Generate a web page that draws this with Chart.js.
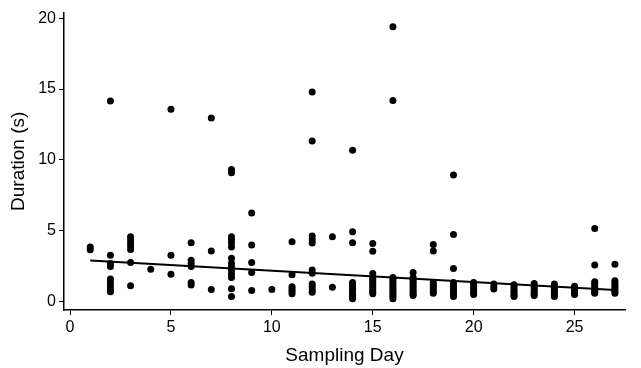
<!DOCTYPE html>
<html>
<head>
<meta charset="utf-8">
<script src="https://cdn.jsdelivr.net/npm/chart.js@4/dist/chart.umd.min.js"></script>
<style>
  html, body { margin: 0; padding: 0; background: #fff; }
  #wrap { width: 641px; height: 368px; }
</style>
</head>
<body>
<div id="wrap"><canvas id="chart"></canvas></div>
<script>
// sampling days and the durations (s) recorded on each
const days = [1, 2, 3, 4, 5, 6, 7, 8, 9, 10, 11, 12, 13, 14, 15, 16, 17, 18, 19, 20, 21, 22, 23, 24, 25, 26, 27];
const durations = [
    [3.85, 3.65],
    [14.15, 3.26, 2.68, 2.47, 1.59, 1.35, 1.07, 0.84, 0.68],
    [4.57, 4.36, 4.13, 3.92, 3.68, 2.75, 1.12],
    [2.28],
    [13.57, 3.26, 1.93],
    [4.15, 2.92, 2.68, 2.47, 1.35, 1.17],
    [12.96, 3.57, 0.84],
    [9.32, 9.1, 4.57, 4.36, 4.13, 3.85, 3.05, 2.7, 2.45, 2.2, 1.95, 1.7, 0.9, 0.35],
    [6.25, 3.99, 2.75, 2.05, 0.77],
    [0.84],
    [4.22, 1.89, 1.05, 0.89, 0.72, 0.54],
    [14.8, 11.33, 4.62, 4.36, 4.13, 2.22, 2.0, 1.24, 1.05, 0.84, 0.65],
    [4.57, 1.0],
    [10.68, 4.92, 4.15, 1.35, 1.2, 1.05, 0.9, 0.75, 0.6, 0.45, 0.3, 0.19],
    [4.1, 3.55, 1.98, 1.7, 1.55, 1.4, 1.25, 1.1, 0.95, 0.8, 0.65, 0.55],
    [19.4, 14.2, 1.7, 1.55, 1.4, 1.25, 1.1, 0.95, 0.8, 0.65, 0.5, 0.35, 0.2],
    [2.05, 1.7, 1.55, 1.4, 1.25, 1.1, 0.95, 0.8, 0.65, 0.5, 0.42],
    [4.03, 3.57, 1.35, 1.2, 1.05, 0.9, 0.75, 0.58],
    [8.93, 4.73, 2.33, 1.35, 1.2, 1.05, 0.9, 0.75, 0.6, 0.45, 0.35],
    [1.35, 1.2, 1.05, 0.9, 0.75, 0.6, 0.49],
    [1.24, 1.05, 0.89],
    [1.19, 1.05, 0.9, 0.75, 0.6, 0.45, 0.35],
    [1.28, 1.1, 0.95, 0.8, 0.65, 0.5, 0.42],
    [1.24, 1.1, 0.95, 0.8, 0.65, 0.5, 0.35],
    [1.07, 0.9, 0.75, 0.6, 0.49],
    [5.15, 2.57, 1.4, 1.25, 1.1, 0.95, 0.8, 0.65, 0.58],
    [2.63, 1.47, 1.3, 1.15, 1.0, 0.85, 0.7, 0.58]
];
// fitted line end points
const fitDays = [1, 27];
const fitDurations = [2.9, 0.82];

const xTicks = [0, 5, 10, 15, 20, 25];
const yTicks = [0, 5, 10, 15, 20];

let points = [];
days.forEach((d, i) => {
    durations[i].forEach(v => points.push({ x: d, y: v }));
});
let fitLine = fitDays.map((d, i) => ({ x: d, y: fitDurations[i] }));

const tickFont = { family: '"Liberation Sans Narrow", "Arial Narrow", "Liberation Sans", sans-serif', size: 16 };
const titleFont = { family: '"Liberation Sans", Arial, sans-serif', size: 19 };

new Chart(document.getElementById('chart').getContext('2d'), {
    type: 'scatter',
    data: {
        datasets: [{
            label: 'Duration',
            data: points,
            pointRadius: 3.5,
            pointBackgroundColor: '#000',
            pointBorderColor: '#000',
            pointBorderWidth: 0,
            showLine: false
        }, {
            label: 'Fit',
            data: fitLine,
            showLine: true,
            borderColor: '#000',
            borderWidth: 2,
            pointRadius: 0,
            fill: false
        }]
    },
    options: {
        responsive: true,
        maintainAspectRatio: false,
        animation: false,
        layout: { padding: { left: 0, right: 16, top: 10, bottom: 0 } },
        plugins: { legend: { display: false }, tooltip: { enabled: false } },
        scales: {
            x: {
                type: 'linear',
                min: -0.3,
                max: 27.5,
                afterFit: s => { s.height = 58; },
                afterBuildTicks: s => { s.ticks = xTicks.map(v => ({ value: v })); },
                grid: { drawOnChartArea: false, drawTicks: true, tickLength: 5, color: '#000', lineWidth: 1 },
                border: { display: true, color: '#000', width: 1.5 },
                ticks: { color: '#000', font: tickFont, padding: 3, maxRotation: 0 },
                title: { display: true, text: 'Sampling Day', color: '#000', font: titleFont, padding: { top: 0, bottom: 1 } }
            },
            y: {
                type: 'linear',
                min: -0.6,
                max: 20.4,
                afterFit: s => { s.width = 64; },
                afterBuildTicks: s => { s.ticks = yTicks.map(v => ({ value: v })); },
                grid: { drawOnChartArea: false, drawTicks: true, tickLength: 5, color: '#000', lineWidth: 1 },
                border: { display: true, color: '#000', width: 1.5 },
                ticks: { color: '#000', font: tickFont, padding: 3 },
                title: { display: true, text: 'Duration (s)', color: '#000', font: titleFont, padding: { top: 7, bottom: 0 } }
            }
        }
    }
});
</script>
</body>
</html>
